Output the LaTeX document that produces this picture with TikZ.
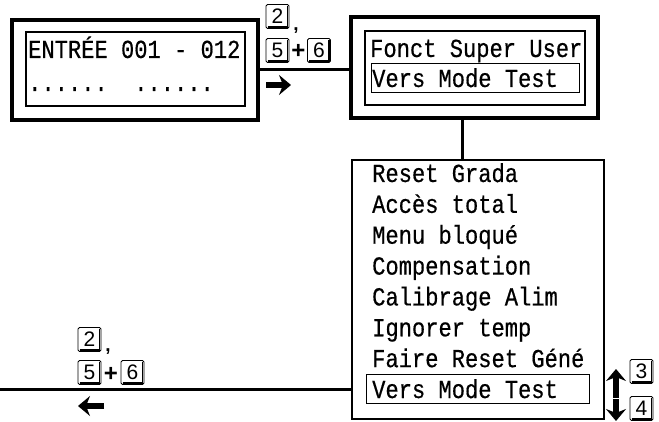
\documentclass[tikz,border=0pt]{standalone}
\usepackage{fontspec}
\usetikzlibrary{arrows.meta}
\newfontfamily\lcdfont[FakeStretch=0.85,FakeBold=0.5]{Liberation Mono}
\newfontfamily\keyfont{Liberation Sans}
\tikzset{
  outerbox/.style={draw, line width=3.2pt, inner sep=0pt},
  innerbox/.style={draw, line width=1.2pt, inner sep=0pt},
  selbox/.style={draw, line width=1pt, inner sep=0pt},
  lcd/.style={font=\lcdfont\fontsize{26}{30}\selectfont, inner sep=0pt, anchor=base west},
  key/.style={draw, line width=0.8pt, rounded corners=1.5pt, minimum width=23pt,
    minimum height=24pt, inner sep=0pt, font=\keyfont\fontsize{21}{21}\selectfont,
    path picture={\draw[line width=1.4pt, sharp corners]
      ([xshift=1.5pt,yshift=1.6pt]path picture bounding box.south west)
      -- ([xshift=-1.6pt,yshift=1.6pt]path picture bounding box.south east)
      -- ([xshift=-1.6pt,yshift=-1.5pt]path picture bounding box.north east);}},
  sep/.style={font=\keyfont\bfseries\fontsize{19}{19}\selectfont, inner sep=0pt, anchor=base},
  plus/.style={font=\keyfont\bfseries\fontsize{24}{24}\selectfont, inner sep=0pt},
  wire/.style={line width=3pt},
  bigarrow/.style={line width=6pt, -{Stealth[length=12pt,width=20pt,inset=4pt]}}
}
\begin{document}
\begin{tikzpicture}[x=1pt,y=-1pt]
  \useasboundingbox (0,0) rectangle (659,422);
  % input display
  \node[outerbox, minimum width=246pt, minimum height=100pt] (entree) at (135,70) {};
  \node[innerbox, minimum width=219pt, minimum height=74pt] (entreein) at (135.5,69) {};
  \node[lcd] (entreeL1) at (28,58) {ENTRÉE 001 - 012};
  \node[lcd] (entreeL2) at (28,91) {......\hphantom{..}......};
  % super user display
  \node[outerbox, minimum width=247pt, minimum height=101pt] (super) at (474.5,67.5) {};
  \node[innerbox, minimum width=220pt, minimum height=74pt] (superin) at (475,68) {};
  \node[lcd] (superL1) at (370,57) {Fonct Super User};
  \node[selbox, minimum width=208pt, minimum height=29pt] (supersel) at (475,78.5) {};
  \node[lcd] (superL2) at (372,87) {Vers Mode Test};
  % menu list
  \node[draw, line width=2pt, minimum width=252pt, minimum height=259pt] (menu) at (478,289.5) {};
  \foreach \txt [count=\i] in {Reset Grada, Accès total, Menu bloqué, Compensation,
      Calibrage Alim, Ignorer temp, Faire Reset Géné, Vers Mode Test}
    \node[lcd] (item\i) at (372,{182+30.86*(\i-1)}) {\txt};
  \node[selbox, minimum width=223pt, minimum height=29pt] (menusel) at (477.5,389) {};
  % connections
  \draw[wire] (entree.east) -- (entree.east -| super.west);
  \coordinate (drop) at (462,118);
  \draw[wire] (drop |- super.south) -- (drop |- menu.north);
  \coordinate (exit) at (0,389);
  \draw[wire] (exit) -- (exit -| menu.west);
  % keys: forward
  \node[key] (kA2) at (277.5,16.5) {2};
  \node[sep] (commaA) at (296,31) {,};
  \node[key] (kA5) at (277.5,50.5) {5};
  \node[plus] (plusA) at (298.5,51) {+};
  \node[key] (kA6) at (319,50.5) {6};
  \draw[bigarrow] (266,85) -- (291,85);
  % keys: back
  \node[key] (kB2) at (89.5,339.5) {2};
  \node[sep] (commaB) at (108,352) {,};
  \node[key] (kB5) at (89.5,372.5) {5};
  \node[plus] (plusB) at (111,374) {+};
  \node[key] (kB6) at (132.5,372.5) {6};
  \draw[bigarrow] (104,406) -- (78,406);
  % keys: scroll
  \node[key] (kC3) at (641.5,371.5) {3};
  \node[key] (kC4) at (641.5,408.5) {4};
  \draw[bigarrow] (616,398) -- (616,369);
  \draw[bigarrow] (616,399) -- (616,421);
\end{tikzpicture}
\end{document}
